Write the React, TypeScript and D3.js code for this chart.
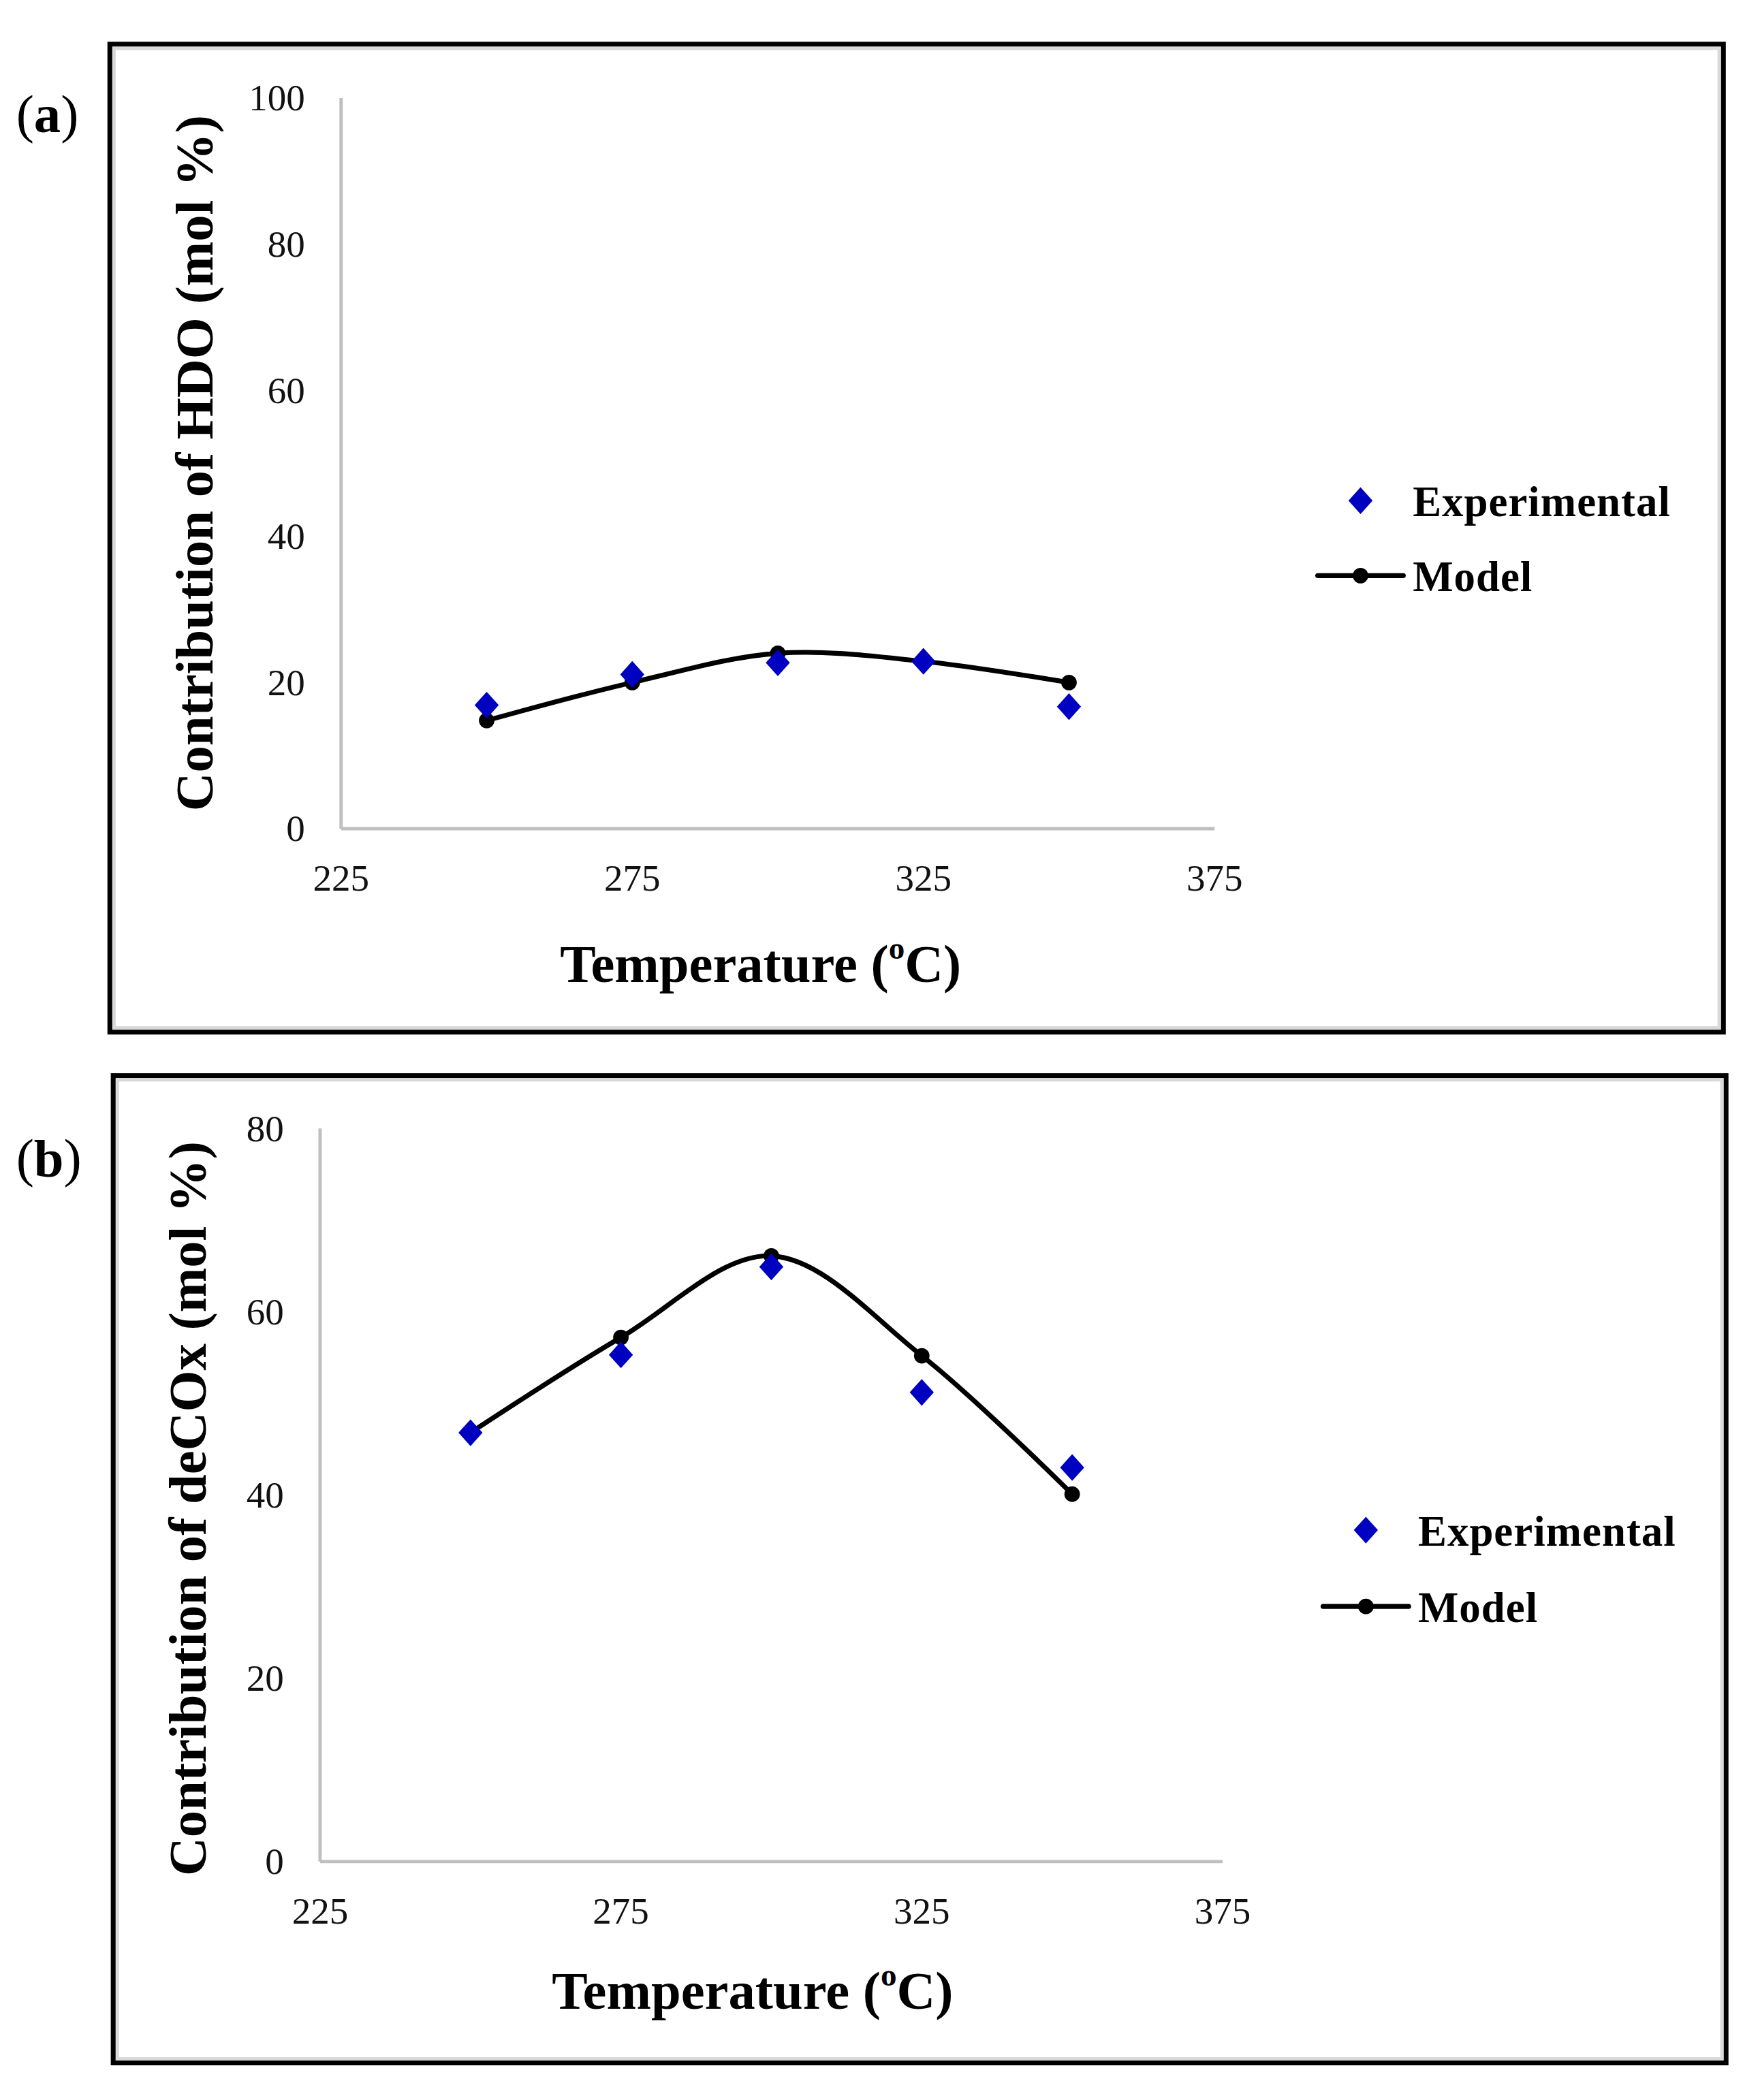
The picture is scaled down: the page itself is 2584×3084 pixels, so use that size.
import React from "react";
import * as d3 from "d3";

// ---- Data ----
const temperatures = [250, 275, 300, 325, 350];
const hdoExperimental = [16.9, 21.1, 22.7, 22.9, 16.7];
const hdoModel = [14.8, 20.0, 24.0, 22.9, 20.0];
const decoxExperimental = [46.8, 55.3, 64.9, 51.2, 43.0];
const decoxModel = [46.8, 57.2, 66.1, 55.2, 40.1];
const xTicks = [225, 275, 325, 375];
const hdoYTicks = [0, 20, 40, 60, 80, 100];
const decoxYTicks = [0, 20, 40, 60, 80];
const seriesNames = ["Experimental", "Model"];

const FONT = "'Liberation Serif', 'Times New Roman', serif";
const BLUE = "#0000c0";

type PanelProps = {
  label: string;
  frame: { x0: number; y0: number; x1: number; y1: number };
  plot: { left: number; right: number; top: number; bottom: number };
  yMax: number;
  yTicks: number[];
  exp: number[];
  model: number[];
  yTitle: string;
  yTitleX: number;
  yTitleCY: number;
  xTitleX: number;
  xTitleY: number;
  legend: { x: number; y1: number; y2: number };
  labelY: number;
};

function diamondPath(cx: number, cy: number, hw: number, hh: number) {
  const p = d3.path();
  p.moveTo(cx, cy - hh);
  p.lineTo(cx + hw, cy);
  p.lineTo(cx, cy + hh);
  p.lineTo(cx - hw, cy);
  p.closePath();
  return p.toString();
}

function Panel(props: PanelProps) {
  const { frame, plot } = props;
  const x = d3.scaleLinear().domain([225, 375]).range([plot.left, plot.right]);
  const y = d3.scaleLinear().domain([0, props.yMax]).range([plot.bottom, plot.top]);
  const line = d3
    .line<number>()
    .x((_, i) => x(temperatures[i]))
    .y((d) => y(d))
    .curve(d3.curveCatmullRom.alpha(0.5));
  return (
    <g>
      {/* frame */}
      <rect
        x={frame.x0}
        y={frame.y0}
        width={frame.x1 - frame.x0}
        height={frame.y1 - frame.y0}
        fill="white"
        stroke="black"
        strokeWidth={3.6}
      />
      <rect
        x={frame.x0 + 3.2}
        y={frame.y0 + 3.2}
        width={frame.x1 - frame.x0 - 6.4}
        height={frame.y1 - frame.y0 - 6.4}
        fill="none"
        stroke="#d9d9d9"
        strokeWidth={2.4}
      />
      {/* panel label */}
      <text x={12} y={props.labelY} fontFamily={FONT} fontSize={40} fill="black" dominantBaseline="central">
        (<tspan fontWeight="bold">{props.label}</tspan>)
      </text>
      {/* axes */}
      <line x1={plot.left} x2={plot.left} y1={plot.top} y2={plot.bottom} stroke="#bfbfbf" strokeWidth={2.5} />
      <line x1={plot.left} x2={plot.right} y1={plot.bottom} y2={plot.bottom} stroke="#bfbfbf" strokeWidth={2.5} />
      {props.yTicks.map((t) => (
        <text
          key={"y" + t}
          x={plot.left - 27}
          y={y(t)}
          textAnchor="end"
          dominantBaseline="central"
          fontFamily={FONT}
          fontSize={28}
          fill="#111"
        >
          {t}
        </text>
      ))}
      {xTicks.map((t) => (
        <text
          key={"x" + t}
          x={x(t)}
          y={plot.bottom + 37}
          textAnchor="middle"
          dominantBaseline="central"
          fontFamily={FONT}
          fontSize={28}
          fill="#111"
        >
          {t}
        </text>
      ))}
      {/* titles */}
      <text
        transform={`translate(${props.yTitleX},${props.yTitleCY}) rotate(-90)`}
        textAnchor="middle"
        dominantBaseline="central"
        fontFamily={FONT}
        fontSize={40}
        fontWeight="bold"
        fill="black"
      >
        {props.yTitle}
      </text>
      <text
        x={props.xTitleX}
        y={props.xTitleY}
        textAnchor="middle"
        dominantBaseline="central"
        fontFamily={FONT}
        fontSize={40}
        fontWeight="bold"
        fill="black"
      >
        Temperature (<tspan fontSize={24} dy={-12}>o</tspan>
        <tspan dy={12}>C)</tspan>
      </text>
      {/* model line */}
      <path d={line(props.model) || ""} fill="none" stroke="black" strokeWidth={3.6} strokeLinejoin="round" />
      {props.model.map((v, i) => (
        <circle key={"m" + i} cx={x(temperatures[i])} cy={y(v)} r={5.8} fill="black" />
      ))}
      {/* experimental */}
      {props.exp.map((v, i) => (
        <path key={"e" + i} d={diamondPath(x(temperatures[i]), y(v), 9, 10)} fill={BLUE} />
      ))}
      {/* legend */}
      <path d={diamondPath(props.legend.x, props.legend.y1, 9, 10)} fill={BLUE} />
      <text
        x={props.legend.x + 39}
        y={props.legend.y1 + 1}
        dominantBaseline="central"
        fontFamily={FONT}
        fontSize={32}
        fontWeight="bold"
        fill="black"
        letterSpacing={0.5}
      >
        {seriesNames[0]}
      </text>
      <line
        x1={props.legend.x - 32}
        x2={props.legend.x + 32}
        y1={props.legend.y2}
        y2={props.legend.y2}
        stroke="black"
        strokeWidth={3.6}
        strokeLinecap="round"
      />
      <circle cx={props.legend.x} cy={props.legend.y2} r={5.8} fill="black" />
      <text
        x={props.legend.x + 39}
        y={props.legend.y2 + 1}
        dominantBaseline="central"
        fontFamily={FONT}
        fontSize={32}
        fontWeight="bold"
        fill="black"
        letterSpacing={0.5}
      >
        {seriesNames[1]}
      </text>
    </g>
  );
}

export default function App() {
  const W = 1314.3;
  const H = 1568.7;
  return (
    <svg
      width={2584}
      height={3084}
      viewBox={`0 0 ${W} ${H}`}
      style={{ position: "absolute", left: 0, top: 0, background: "white" }}
    >
      <rect x={0} y={0} width={W} height={H} fill="white" />
      <Panel
        label="a"
        frame={{ x0: 82, y0: 33, x1: 1287, y1: 771 }}
        plot={{ left: 254.7, right: 907, top: 73.2, bottom: 619 }}
        yMax={100}
        yTicks={hdoYTicks}
        exp={hdoExperimental}
        model={hdoModel}
        yTitle="Contribution of HDO (mol %)"
        yTitleX={145}
        yTitleCY={346}
        xTitleX={568}
        xTitleY={720}
        legend={{ x: 1016, y1: 374, y2: 430 }}
        labelY={85}
      />
      <Panel
        label="b"
        frame={{ x0: 84.5, y0: 803.5, x1: 1289, y1: 1541 }}
        plot={{ left: 239, right: 913, top: 843, bottom: 1390.6 }}
        yMax={80}
        yTicks={decoxYTicks}
        exp={decoxExperimental}
        model={decoxModel}
        yTitle="Contribution of deCOx (mol %)"
        yTitleX={140}
        yTitleCY={1127}
        xTitleX={562}
        xTitleY={1487}
        legend={{ x: 1020, y1: 1143, y2: 1200 }}
        labelY={865}
      />
    </svg>
  );
}
